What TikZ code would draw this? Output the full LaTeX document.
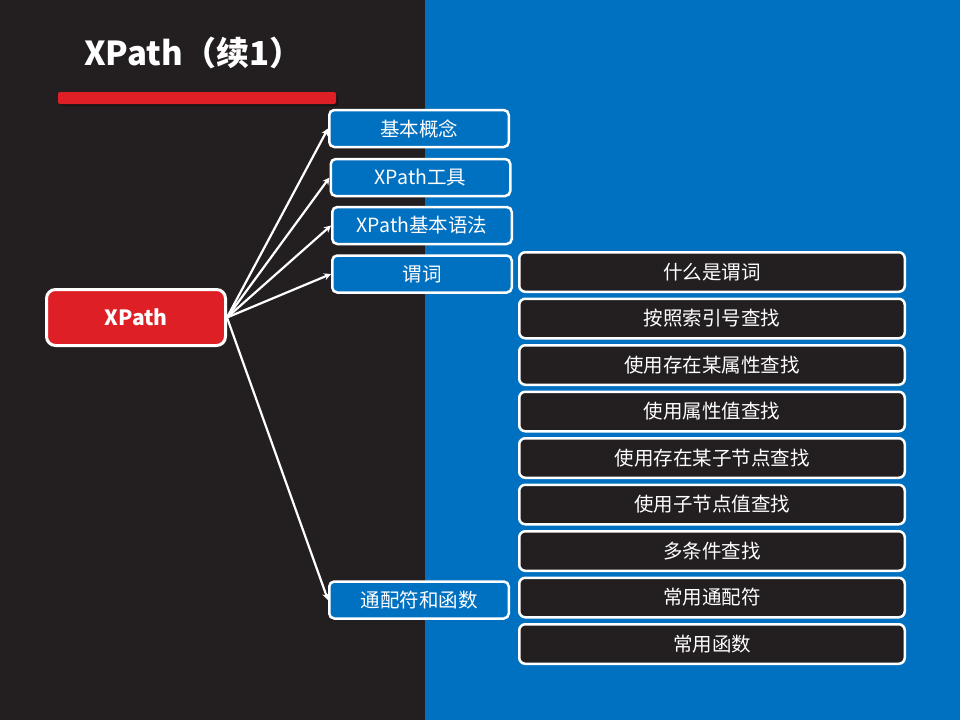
\documentclass[tikz,border=0pt]{standalone}
\usepackage{fontspec}
\setmainfont{Noto Sans CJK SC}
\usetikzlibrary{arrows.meta}
\definecolor{slate}{HTML}{231F20}
\definecolor{ppblue}{HTML}{0070C0}
\definecolor{ppred}{HTML}{DE1F26}

\begin{document}
\begin{tikzpicture}[x=1pt,y=-1pt,
  root/.style={draw=white, line width=3pt, fill=ppred, rounded corners=9pt,
    minimum width=179pt, minimum height=56pt, inner sep=0pt, text=white,
    font=\fontsize{21}{24}\selectfont\bfseries},
  topic/.style={draw=white, line width=2.5pt, fill=ppblue, rounded corners=5pt,
    minimum width=179.5pt, minimum height=37pt, inner sep=0pt, text=white,
    font=\fontsize{19.5}{22}\selectfont},
  item/.style={draw=white, line width=2.5pt, fill=slate, rounded corners=6pt,
    minimum width=385.5pt, minimum height=39.5pt, inner sep=0pt, text=white,
    font=\fontsize{19.5}{22}\selectfont},
  link/.style={draw=white, line width=2.2pt, -{Stealth[length=7pt,width=7pt]}},
]
\useasboundingbox (0,0) rectangle (960,720);
% two-tone background
\fill[slate] (0,0) rectangle (425,720);
\fill[ppblue] (425,0) rectangle (960,720);

% title and underline bar
\node[anchor=base west, inner sep=0pt, text=white,
      font=\fontsize{33}{36}\selectfont\bfseries] (title) at (84,65) {XPath（续1）};
\fill[black, opacity=0.35, rounded corners=2pt] (60,94) rectangle (338,106);
\fill[ppred, rounded corners=2pt] (58,92) rectangle (336,104);

% root
\node[root] (xp) at (136,317.5) {XPath};

% first-level topics
\node[topic] (b1) at (419,128.5) {基本概念};
\node[topic] (b2) at (420.5,177.5) {XPath工具};
\node[topic] (b3) at (422,225.5) {XPath基本语法};
\node[topic] (b4) at (422,274) {谓词};
\node[topic] (b5) at (419,600) {通配符和函数};

% connectors
\draw[link] (xp.east) -- (b1.west);
\draw[link] (xp.east) -- (b2.west);
\draw[link] (xp.east) -- (b3.west);
\draw[link] (xp.east) -- (b4.west);
\draw[link] (xp.east) -- (b5.west);

% detail list
\node[item] (c1) at (712,272) {什么是谓词};
\node[item] (c2) at (712,318.5) {按照索引号查找};
\node[item] (c3) at (712,365) {使用存在某属性查找};
\node[item] (c4) at (712,411.5) {使用属性值查找};
\node[item] (c5) at (712,458) {使用存在某子节点查找};
\node[item] (c6) at (712,504.5) {使用子节点值查找};
\node[item] (c7) at (712,551) {多条件查找};
\node[item] (c8) at (712,597.5) {常用通配符};
\node[item] (c9) at (712,644) {常用函数};
\end{tikzpicture}
\end{document}
